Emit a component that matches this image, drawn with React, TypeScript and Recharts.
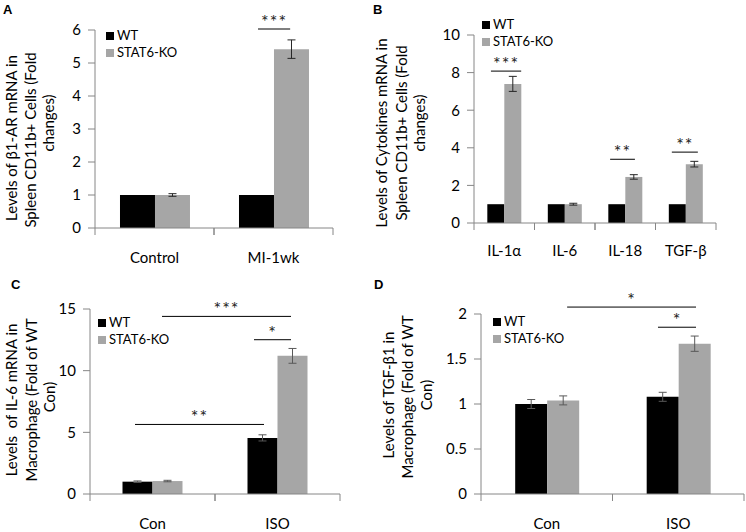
import React from 'react';
import { BarChart, Bar, XAxis, YAxis, ErrorBar, ReferenceLine, Legend } from 'recharts';

// ---------- data ----------
const seriesNames = ['WT', 'STAT6-KO'];

const aCategories = ['Control', 'MI-1wk'];
const aWT = [1, 1];
const aWTErr = [0, 0];
const aKO = [1, 5.42];
const aKOErr = [0.04, 0.28];
const aTicks = [0, 1, 2, 3, 4, 5, 6];
const aSig = [{ from: 1.37, to: 1.64, y: 6.03, label: '***' }];
const aTitle = ['Levels of β1-AR mRNA in', 'Spleen CD11b+ Cells (Fold', 'changes)'];

const bCategories = ['IL-1α', 'IL-6', 'IL-18', 'TGF-β'];
const bWT = [1, 1, 1, 1];
const bWTErr = [0, 0, 0, 0];
const bKO = [7.4, 1.0, 2.45, 3.13];
const bKOErr = [0.4, 0.05, 0.12, 0.15];
const bTicks = [0, 2, 4, 6, 8, 10];
const bSig = [
  { from: 0.28, to: 0.78, y: 8.08, label: '***' },
  { from: 2.25, to: 2.66, y: 3.39, label: '**' },
  { from: 3.27, to: 3.7, y: 3.77, label: '**' },
];
const bTitle = ['Levels of Cytokines mRNA in', 'Spleen CD11b+ Cells (Fold', 'changes)'];

const cCategories = ['Con', 'ISO'];
const cWT = [1.0, 4.55];
const cWTErr = [0.06, 0.25];
const cKO = [1.05, 11.2];
const cKOErr = [0.06, 0.6];
const cTicks = [0, 5, 10, 15];
const cSig = [
  { from: 0.576, to: 1.608, y: 14.4, label: '***' },
  { from: 1.312, to: 1.608, y: 12.51, label: '*' },
  { from: 0.36, to: 1.392, y: 5.64, label: '**' },
];
const cTitle = ['Levels  of IL-6 mRNA in', 'Macrophage (Fold of WT', 'Con)'];

const dCategories = ['Con', 'ISO'];
const dWT = [1.0, 1.08];
const dWTErr = [0.05, 0.05];
const dKO = [1.04, 1.67];
const dKOErr = [0.05, 0.085];
const dTicks = [0, 0.5, 1, 1.5, 2];
const dSig = [
  { from: 0.655, to: 1.635, y: 2.077, label: '*' },
  { from: 1.346, to: 1.635, y: 1.853, label: '*' },
];
const dTitle = ['Levels of TGF-β1 in', 'Macrophage (Fold of WT', 'Con)'];

const build = (cats: string[], wt: number[], wtErr: number[], ko: number[], koErr: number[]) =>
  cats.map((c, i) => ({ name: c, wt: wt[i], wtErr: wtErr[i], ko: ko[i], koErr: koErr[i] }));

// ---------- styles ----------
const AXIS = '#868686';
const WT_COLOR = '#000000';
const KO_COLOR = '#a6a6a6';
const FONT = 'Lato, "Open Sans", sans-serif';

type Sig = { from: number; to: number; y: number; label: string };

const YTitle = (props: any) => {
  const { lines, xs, ys } = props;
  return (
    <g>
      {lines.map((l: string, i: number) => (
        <text
          key={i}
          x={xs[i]}
          y={ys[i]}
          transform={`rotate(-90 ${xs[i]} ${ys[i]})`}
          textAnchor="middle"
          dominantBaseline="central"
          fontSize={15}
          fill="#000"
          style={{ whiteSpace: 'pre' }}
        >
          {l}
        </text>
      ))}
    </g>
  );
};

const LegendContent = (props: any) => {
  const items = [...(props.payload || [])].sort(
    (a: any, b: any) => seriesNames.indexOf(a.value) - seriesNames.indexOf(b.value)
  );
  return (
    <div style={{ fontSize: 13, lineHeight: '17px', color: '#000', fontFamily: FONT }}>
      {items.map((p: any) => (
        <div key={p.value} style={{ display: 'flex', alignItems: 'center', whiteSpace: 'nowrap' }}>
          <span style={{ display: 'inline-block', width: 8, height: 8, background: p.color, marginRight: 3 }} />
          {p.value}
        </div>
      ))}
    </div>
  );
};

type PanelProps = {
  letter: string;
  data: any[];
  ticks: number[];
  sig: Sig[];
  title: string[];
  left: number;
  top: number;
  margin: { top: number; right: number };
  yWidth: number;
  xHeight: number;
  gap: string;
  titleX: number[];
  titleY: number[];
  legend: { left: number; top: number };
  errColor: string;
  xLabelDy: number;
  letterPos: { left: number; top: number };
};

const W = 373;
const H = 266;

const Panel = (p: PanelProps) => {
  const n = p.data.length;
  const plotW = W - p.margin.right - p.yWidth;
  const band = plotW / n;
  const cats = p.data.map((d) => d.name);
  const catIdx = (v: number) => Math.max(0, Math.min(n - 1, Math.floor(v)));
  const XTick = (tp: any) => {
    const { x, y, payload } = tp;
    return (
      <g>
        <line x1={x - band / 2} y1={y} x2={x - band / 2} y2={y + 7} stroke={AXIS} />
        <line x1={x + band / 2} y1={y} x2={x + band / 2} y2={y + 7} stroke={AXIS} />
        <text x={x} y={y + p.xLabelDy} textAnchor="middle" fontSize={15} fill="#000">
          {payload.value}
        </text>
      </g>
    );
  };
  const sigShape = (s: Sig) => (sp: any) => {
    const i1 = catIdx(s.from);
    const i2 = catIdx(s.to);
    const x1 = sp.x1 + (s.from - i1 - 0.5) * band;
    const x2 = sp.x2 + (s.to - i2 - 0.5) * band;
    const y = sp.y1;
    return (
      <g>
        <line x1={x1} y1={y} x2={x2} y2={y} stroke="#000" strokeWidth={1} />
        <text x={(x1 + x2) / 2} y={y - 1} textAnchor="middle" fontSize={18} fill="#222" letterSpacing={1}>
          {s.label}
        </text>
      </g>
    );
  };
  return (
    <div style={{ position: 'absolute', left: p.left, top: p.top, width: W, height: H }}>
      <BarChart
        width={W}
        height={H}
        data={p.data}
        margin={{ top: p.margin.top, right: p.margin.right, bottom: 0, left: 0 }}
        barCategoryGap={p.gap}
        barGap={0}
      >
        <XAxis
          dataKey="name"
          height={p.xHeight}
          tickLine={false}
          tickSize={0}
          tickMargin={0}
          stroke={AXIS}
          tick={XTick}
          interval={0}
        />
        <YAxis
          width={p.yWidth}
          domain={[p.ticks[0], p.ticks[p.ticks.length - 1]]}
          ticks={p.ticks}
          interval={0}
          tickSize={7}
          tickMargin={7}
          stroke={AXIS}
          tick={{ fill: '#000', fontSize: 15 }}
          label={<YTitle lines={p.title} xs={p.titleX} ys={p.titleY} />}
        />
        <Legend
          layout="horizontal"
          verticalAlign="middle"
          align="center"
          content={<LegendContent />}
          wrapperStyle={{ left: p.legend.left, top: p.legend.top, width: 100, height: 36 }}
        />
        <Bar dataKey="wt" name={seriesNames[0]} fill={WT_COLOR} isAnimationActive={false}>
          <ErrorBar dataKey="wtErr" width={4} stroke={p.errColor} strokeWidth={1} direction="y" />
        </Bar>
        <Bar dataKey="ko" name={seriesNames[1]} fill={KO_COLOR} isAnimationActive={false}>
          <ErrorBar dataKey="koErr" width={4} stroke={p.errColor} strokeWidth={1} direction="y" />
        </Bar>
        {p.sig.map((s, i) => (
          <ReferenceLine
            key={i}
            segment={[
              { x: cats[catIdx(s.from)], y: s.y },
              { x: cats[catIdx(s.to)], y: s.y },
            ]}
            stroke="#000"
            ifOverflow="visible"
            shape={sigShape(s)}
          />
        ))}
      </BarChart>
      <div
        style={{
          position: 'absolute',
          left: p.letterPos.left,
          top: p.letterPos.top,
          fontFamily: 'Arial, "Liberation Sans", sans-serif',
          fontWeight: 'bold',
          fontSize: 13,
          lineHeight: '13px',
          color: '#000',
        }}
      >
        {p.letter}
      </div>
    </div>
  );
};

export default function App() {
  return (
    <div
      style={{
        position: 'absolute',
        left: 0,
        top: 0,
        width: 746,
        height: 532,
        background: '#fff',
        fontFamily: FONT,
        overflow: 'hidden',
      }}
    >
      <Panel
        letter="A"
        data={build(aCategories, aWT, aWTErr, aKO, aKOErr)}
        ticks={aTicks}
        sig={aSig}
        title={aTitle}
        left={0}
        top={0}
        margin={{ top: 30, right: 40 }}
        yWidth={95}
        xHeight={38}
        gap="21%"
        titleX={[11, 30, 48]}
        titleY={[138, 140, 123]}
        legend={{ left: 106, top: 27 }}
        errColor="#262626"
        xLabelDy={35}
        letterPos={{ left: 3, top: 3 }}
      />
      <Panel
        letter="B"
        data={build(bCategories, bWT, bWTErr, bKO, bKOErr)}
        ticks={bTicks}
        sig={bSig}
        title={bTitle}
        left={373}
        top={0}
        margin={{ top: 35, right: 30 }}
        yWidth={101}
        xHeight={43}
        gap="22%"
        titleX={[8, 28, 46]}
        titleY={[133, 133, 123]}
        legend={{ left: 109, top: 16 }}
        errColor="#262626"
        xLabelDy={33}
        letterPos={{ left: 0, top: 3 }}
      />
      <Panel
        letter="C"
        data={build(cCategories, cWT, cWTErr, cKO, cKOErr)}
        ticks={cTicks}
        sig={cSig}
        title={cTitle}
        left={0}
        top={266}
        margin={{ top: 43, right: 33 }}
        yWidth={90}
        xHeight={38}
        gap="26%"
        titleX={[11, 31, 49]}
        titleY={[134, 134, 131]}
        legend={{ left: 98, top: 48 }}
        errColor="#595959"
        xLabelDy={35}
        letterPos={{ left: 11, top: 12 }}
      />
      <Panel
        letter="D"
        data={build(dCategories, dWT, dWTErr, dKO, dKOErr)}
        ticks={dTicks}
        sig={dSig}
        title={dTitle}
        left={373}
        top={266}
        margin={{ top: 48, right: 2 }}
        yWidth={108}
        xHeight={38}
        gap="26%"
        titleX={[15, 34, 53]}
        titleY={[129, 131, 129]}
        legend={{ left: 120, top: 47 }}
        errColor="#595959"
        xLabelDy={35}
        letterPos={{ left: 1, top: 12 }}
      />
    </div>
  );
}
